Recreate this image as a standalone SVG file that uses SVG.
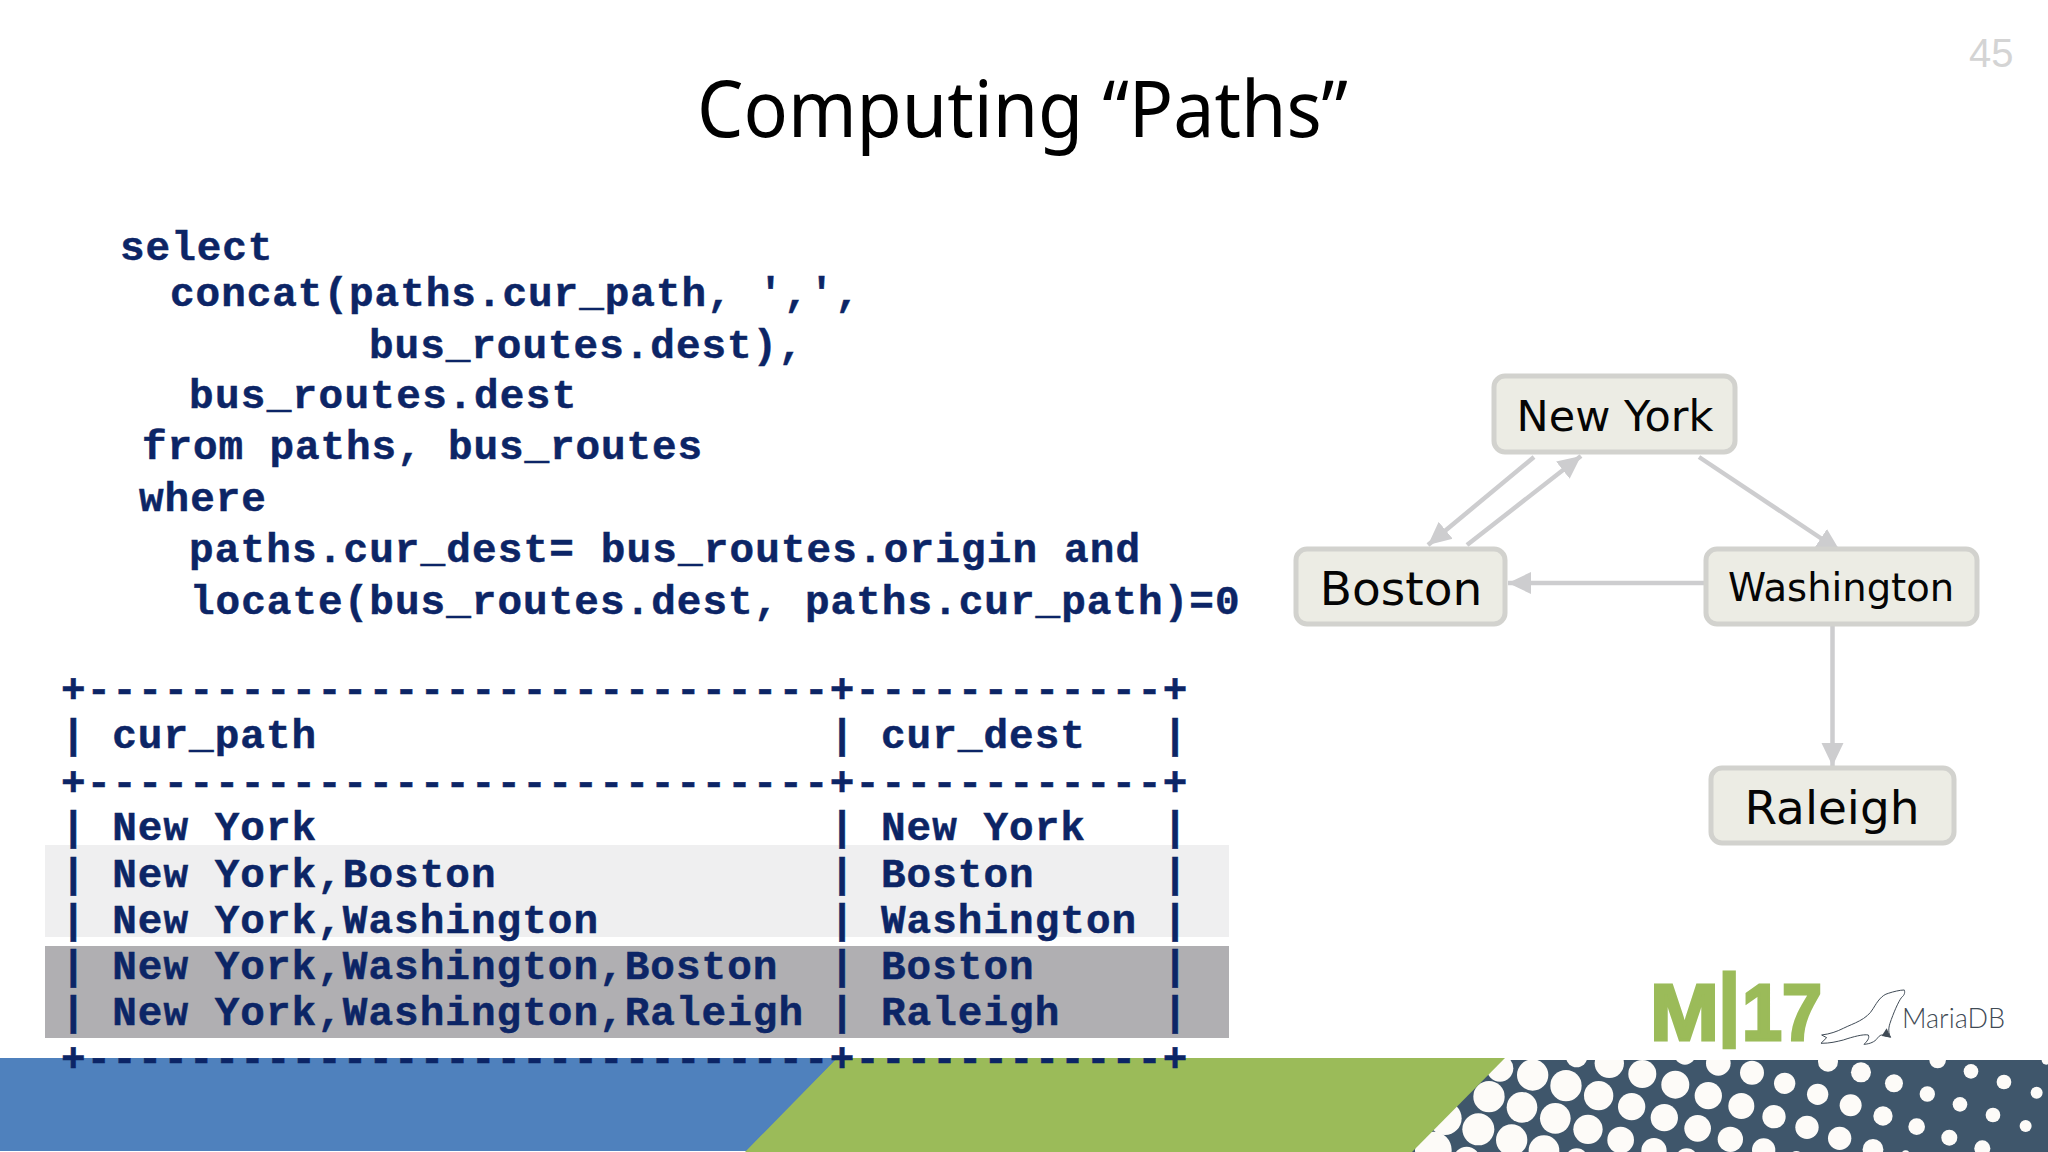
<svg xmlns="http://www.w3.org/2000/svg" width="2048" height="1152" viewBox="0 0 2048 1152">
<style>
.code{font-family:"Liberation Mono",monospace;font-weight:700;font-size:41px;letter-spacing:.97px;fill:#0c2566;stroke:#0c2566;stroke-width:.5;white-space:pre}
.row{letter-spacing:1.02px}
.box{fill:#ecece4;stroke:#d2d2ce;stroke-width:5}
.lbl{font-family:"DejaVu Sans",sans-serif;fill:#050505;text-anchor:middle}
.edge{stroke:#cdcdcf;stroke-width:4.5;fill:none;marker-end:url(#head)}
.dots circle{fill:#fdfbf8}
</style>
<defs>
<marker id="head" markerUnits="userSpaceOnUse" markerWidth="24" markerHeight="24" refX="23" refY="12" orient="auto"><path d="M0,1 L23,12 L0,23 Z" fill="#cdcdcf"/></marker>
<clipPath id="band"><rect x="1400" y="1060" width="648" height="92"/></clipPath>
</defs>
<rect width="2048" height="1152" fill="#fff"/>
<text x="697" y="137" font-family="'Noto Sans',sans-serif" font-size="78" fill="#000" textLength="651" lengthAdjust="spacingAndGlyphs">Computing “Paths”</text>
<text x="1969" y="67" font-family="'Liberation Sans',sans-serif" font-size="40" fill="#d4d4d4">45</text>

<g id="query">
<text class="code" x="120" y="260">select</text>
<text class="code" x="170" y="306">concat(paths.cur_path, ',',</text>
<text class="code" x="369" y="358">bus_routes.dest),</text>
<text class="code" x="189" y="408" style="letter-spacing:1.3px">bus_routes.dest</text>
<text class="code" x="142" y="459" style="letter-spacing:.9px">from paths, bus_routes</text>
<text class="code" x="139" y="511">where</text>
<text class="code" x="189" y="562" style="letter-spacing:1.13px">paths.cur_dest= bus_routes.origin and</text>
<text class="code" x="190" y="614" style="letter-spacing:1.02px">locate(bus_routes.dest, paths.cur_path)=0</text>
</g>

<g id="bottom-band">
<rect x="0" y="1058" width="850" height="93" fill="#4f81bd"/>
<rect x="1400" y="1060" width="648" height="92" fill="#3f566b"/>
<g class="dots" clip-path="url(#band)">
<g transform="translate(1400,1050) scale(.3333)">
<circle cx="398" cy="75" r="47"/><circle cx="498" cy="107" r="47"/><circle cx="596" cy="137" r="44"/><circle cx="695" cy="170" r="41"/><circle cx="793" cy="203" r="41"/><circle cx="893" cy="235" r="40"/>
<circle cx="530" cy="20" r="32"/><circle cx="628" cy="40" r="44"/><circle cx="727" cy="72" r="42"/><circle cx="826" cy="104" r="42"/><circle cx="925" cy="137" r="41"/>
<circle cx="267" cy="140" r="47"/><circle cx="366" cy="172" r="46"/><circle cx="466" cy="205" r="46"/><circle cx="564" cy="238" r="44"/><circle cx="662" cy="270" r="40"/><circle cx="762" cy="302" r="38"/>
<circle cx="300" cy="55" r="40"/><circle cx="855" cy="12" r="32"/><circle cx="955" cy="40" r="37"/>
<circle cx="235" cy="238" r="48"/><circle cx="335" cy="270" r="47"/><circle cx="432" cy="302" r="46"/><circle cx="530" cy="330" r="35"/>
<circle cx="135" cy="205" r="50"/><circle cx="100" cy="300" r="55"/><circle cx="200" cy="330" r="40"/><circle cx="860" cy="330" r="35"/>
</g>
<g transform="translate(1718,1050) scale(.3333)">
<circle cx="102" cy="68" r="36"/><circle cx="200" cy="100" r="32"/><circle cx="299" cy="133" r="32"/><circle cx="398" cy="166" r="33"/><circle cx="495" cy="198" r="29"/><circle cx="596" cy="230" r="25"/><circle cx="694" cy="263" r="24"/><circle cx="793" cy="295" r="24"/>
<circle cx="330" cy="35" r="30"/><circle cx="429" cy="67" r="30"/><circle cx="528" cy="100" r="27"/><circle cx="628" cy="132" r="23"/><circle cx="726" cy="163" r="22"/><circle cx="825" cy="195" r="22"/><circle cx="923" cy="228" r="18"/>
<circle cx="659" cy="30" r="25"/><circle cx="759" cy="64" r="22"/><circle cx="858" cy="96" r="22"/><circle cx="956" cy="128" r="18"/><circle cx="985" cy="30" r="14"/>
<circle cx="70" cy="168" r="39"/><circle cx="168" cy="200" r="35"/><circle cx="267" cy="232" r="35"/><circle cx="365" cy="265" r="35"/><circle cx="465" cy="298" r="31"/><circle cx="563" cy="315" r="14"/>
<circle cx="37" cy="268" r="38"/><circle cx="137" cy="300" r="35"/><circle cx="235" cy="325" r="22"/><circle cx="232" cy="22" r="8"/>
</g>
</g>
<polygon points="837,1058 1505,1058 1412,1152 745,1152" fill="#9bbb59"/>
<polygon points="0,1058 837,1058 745,1151 0,1151" fill="#4f81bd"/>
</g>

<rect x="45" y="845" width="1184" height="92" fill="#efeff0"/>
<rect x="45" y="946" width="1184" height="92" fill="#b0afb2"/>
<g id="result-table">
<text class="code row" x="61" y="702">+-----------------------------+------------+</text>
<text class="code row" x="61" y="748">| cur_path                    | cur_dest   |</text>
<text class="code row" x="61" y="795">+-----------------------------+------------+</text>
<text class="code row" x="61" y="840">| New York                    | New York   |</text>
<text class="code row" x="61" y="887">| New York,Boston             | Boston     |</text>
<text class="code row" x="61" y="933">| New York,Washington         | Washington |</text>
<text class="code row" x="61" y="979">| New York,Washington,Boston  | Boston     |</text>
<text class="code row" x="61" y="1025">| New York,Washington,Raleigh | Raleigh    |</text>
<text class="code row" x="61" y="1071">+-----------------------------+------------+</text>
</g>

<g id="connectors">
<line class="edge" x1="1534" y1="457" x2="1428" y2="545"/>
<line class="edge" x1="1467" y1="545" x2="1581" y2="456"/>
<line class="edge" x1="1699" y1="457" x2="1840" y2="551"/>
<line class="edge" x1="1704" y1="583" x2="1508" y2="583"/>
<line class="edge" x1="1832.500" y1="620" x2="1832.500" y2="766"/>
</g>
<g id="node-new-york"><rect class="box" x="1494" y="376" width="241" height="76" rx="11"/><text class="lbl" x="1615" y="431" font-size="43">New York</text></g>
<g id="node-boston"><rect class="box" x="1296" y="549" width="209" height="75" rx="11"/><text class="lbl" x="1401" y="605" font-size="47">Boston</text></g>
<g id="node-washington"><rect class="box" x="1706" y="549" width="271" height="75" rx="11"/><text class="lbl" x="1841" y="601" font-size="38.500">Washington</text></g>
<g id="node-raleigh"><rect class="box" x="1711" y="768" width="243" height="75" rx="11"/><text class="lbl" x="1832" y="824" font-size="47">Raleigh</text></g>

<g id="logo">
<text font-family="'Liberation Sans',sans-serif" font-weight="700" font-size="80" fill="#9bbb59" stroke="#9bbb59" stroke-width="3"><tspan x="1650" y="1040" textLength="69" lengthAdjust="spacingAndGlyphs">M</tspan><tspan x="1718" y="1030">|</tspan><tspan x="1742" y="1040" textLength="80" lengthAdjust="spacingAndGlyphs">17</tspan></text>
<g transform="translate(1640,960) scale(.3333)">
<path d="M793,90 C780,90 760,95 745,100 C725,105 712,125 700,145 C680,180 640,190 610,205 C590,215 570,222 545,225 L560,233 L543,250 C570,250 590,245 610,240 C640,230 670,222 685,225 C690,235 680,245 672,253 C690,252 705,245 712,235 C720,225 725,222 735,228 L752,232 C745,220 745,205 750,190 C760,160 775,125 785,112 C795,105 795,95 793,90 Z" fill="#fff" stroke="#3f4a55" stroke-width="3"/>
<polygon points="725,228 740,205 752,232" fill="#3f4a55"/>
</g>
<text x="1902" y="1028" font-family="Lato,sans-serif" font-weight="300" font-size="27" fill="#3f4a55">MariaDB</text>
</g>
</svg>
